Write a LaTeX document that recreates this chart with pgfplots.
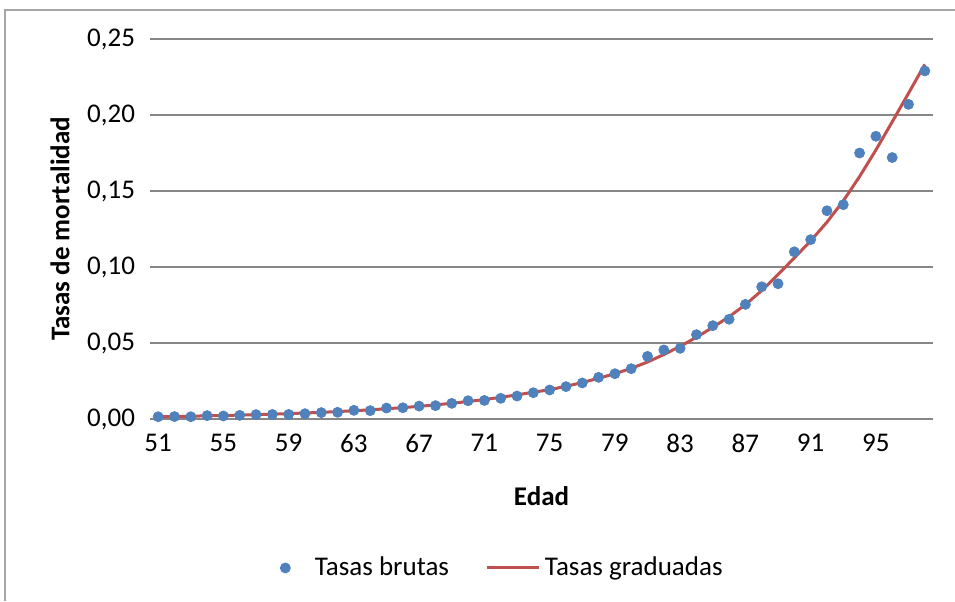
\documentclass[border=0pt]{standalone}
\usepackage{pgfplots}
\usepackage{pgfplotstable}
\pgfplotsset{compat=1.18}
\usepackage{fontspec}
\setmainfont{Carlito}

\definecolor{brutas}{HTML}{4F81BD}
\definecolor{graduadas}{HTML}{C0504D}
\definecolor{rejilla}{HTML}{868686}
\definecolor{marco}{HTML}{A6A6A6}

% k = posicion de la categoria (edad - 51)
\pgfplotstableread{
k edad bruta graduada
0  51 0.0015 0.00150
1  52 0.0016 0.00167
2  53 0.0015 0.00186
3  54 0.0022 0.00207
4  55 0.0020 0.00230
5  56 0.0024 0.00256
6  57 0.0029 0.00285
7  58 0.0030 0.00318
8  59 0.0030 0.00354
9  60 0.0035 0.00394
10 61 0.0042 0.00438
11 62 0.0044 0.00488
12 63 0.0057 0.00543
13 64 0.0055 0.00605
14 65 0.0072 0.00673
15 66 0.0074 0.00749
16 67 0.0085 0.00834
17 68 0.0088 0.00929
18 69 0.0103 0.01034
19 70 0.0120 0.01151
20 71 0.0122 0.01281
21 72 0.0136 0.01426
22 73 0.0151 0.01588
23 74 0.0173 0.01760
24 75 0.0191 0.01930
25 76 0.0213 0.02150
26 77 0.0237 0.02400
27 78 0.0274 0.02680
28 79 0.0298 0.02980
29 80 0.0331 0.03330
30 81 0.0412 0.03750
31 82 0.0454 0.04240
32 83 0.0465 0.04780
33 84 0.0555 0.05380
34 85 0.0614 0.06030
35 86 0.0656 0.06730
36 87 0.0754 0.07520
37 88 0.0870 0.08450
38 89 0.0890 0.09500
39 90 0.1100 0.10600
40 91 0.1180 0.11720
41 92 0.1370 0.12950
42 93 0.1410 0.14350
43 94 0.1750 0.15950
44 95 0.1860 0.17700
45 96 0.1720 0.19550
46 97 0.2070 0.21430
47 98 0.2290 0.23330
}\datos

\begin{document}
\begin{tikzpicture}
\useasboundingbox (0,0) rectangle (477.5pt,300.5pt);
\draw[marco, line width=0.6pt] (2.5pt,0) -- (2.5pt,295.5pt) -- (477.5pt,295.5pt);
\begin{axis}[
  at={(75pt,91pt)}, anchor=south west,
  scale only axis, width=391.5pt, height=190pt,
  xmin=-0.5, xmax=47.5, ymin=0, ymax=0.25,
  axis line style={draw=none},
  xtick={0,4,...,44},
  xticklabels={51,55,59,63,67,71,75,79,83,87,91,95},
  ytick={0,0.05,...,0.25},
  yticklabel style={/pgf/number format/fixed, /pgf/number format/fixed zerofill,
    /pgf/number format/precision=2, /pgf/number format/use comma,
    /pgf/number format/assume math mode=true, xshift=-4pt},
  major tick length=0pt,
  ymajorgrids,
  grid style={rejilla, line width=0.6pt},
  every tick label/.append style={font=\fontsize{13.5pt}{16pt}\selectfont, text=black},
  xticklabel style={yshift=-4pt},
  xlabel={\textbf{Edad}},
  ylabel={\textbf{Tasas de mortalidad}},
  label style={font=\fontsize{13.5pt}{16pt}\selectfont},
  xlabel style={at={(axis description cs:0.5,-0.203)}, anchor=center},
  ylabel style={at={(axis description cs:-0.115,0.5)}, anchor=center},
  legend style={at={(axis description cs:0.451,-0.392)}, anchor=center,
    draw=none, fill=none, font=\fontsize{13.5pt}{16pt}\selectfont,
    /tikz/every even column/.append style={column sep=16pt}},
  legend columns=2,
  clip=false,
]
\addplot[only marks, mark=*, mark size=2.5pt, brutas, mark options={draw=brutas, fill=brutas},
  legend image code/.code={\path[draw=none] (-0.1cm,0cm) -- (0.45cm,0cm);
    \fill[brutas] (0cm,0cm) circle[radius=2.5pt];}]
  table[x=k, y=bruta] {\datos};
\addlegendentry{Tasas brutas}
\addplot[graduadas, line width=1.5pt, no marks,
  legend image code/.code={\draw[graduadas, line width=1.5pt] (0cm,0cm) -- (0.93cm,0cm);}]
  table[x=k, y=graduada] {\datos};
\addlegendentry{Tasas graduadas}
\end{axis}
\end{tikzpicture}
\end{document}
